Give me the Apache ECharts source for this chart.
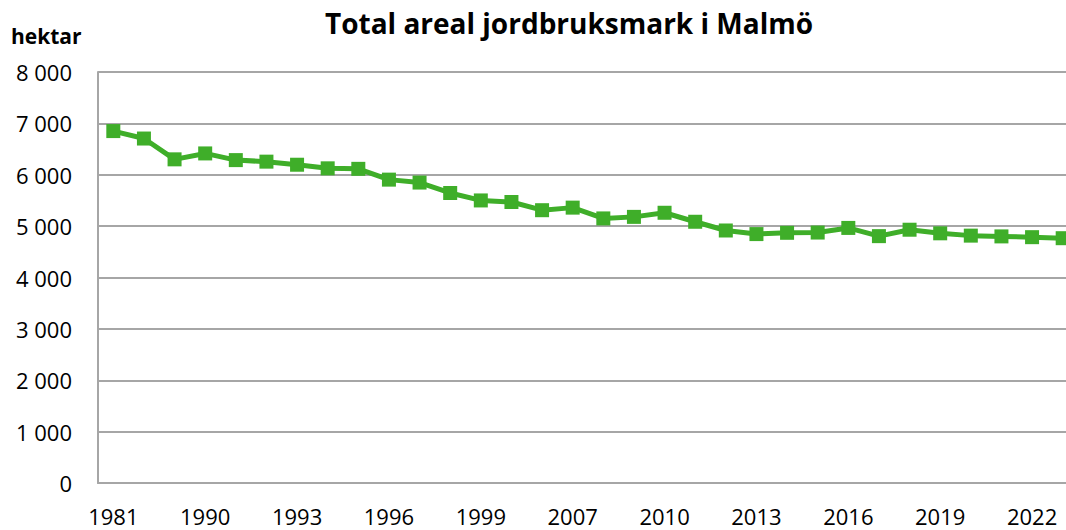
<!DOCTYPE html>
<html>
<head>
<meta charset="utf-8">
<script src="https://cdn.jsdelivr.net/npm/echarts@6/dist/echarts.min.js"></script>
<style>
  html, body { margin: 0; padding: 0; background: #fff; }
  #chart { width: 1066px; height: 530px; }
</style>
</head>
<body>
<div id="chart"></div>
<script>
(function() {
  // years; only every third one gets a label on the axis
  var years = [
    '1981', '1985', '1988', '1990', '1991', '1992', '1993', '1994', '1995', '1996',
    '1997', '1998', '1999', '2002', '2005', '2007', '2008', '2009', '2010', '2011',
    '2012', '2013', '2014', '2015', '2016', '2017', '2018', '2019', '2020', '2021',
    '2022', '2023'
  ];
  var hektar = [
    6850, 6705, 6300, 6415, 6285, 6255, 6195, 6125, 6115, 5905,
    5848, 5645, 5500, 5470, 5310, 5360, 5150, 5180, 5260, 5085,
    4915, 4845, 4870, 4875, 4965, 4805, 4930, 4860, 4815, 4800,
    4785, 4765
  ];
  var yTicks = [0, 1000, 2000, 3000, 4000, 5000, 6000, 7000, 8000];

  var green = '#3fae29';
  var gridGray = '#a6a6a6';
  var font = 'Open Sans';

  var chart = echarts.init(document.getElementById('chart'), null, { renderer: 'svg' });
  chart.setOption({
    animation: false,
    title: {
      text: 'Total areal jordbruksmark i Malmö',
      left: 564,
      textAlign: 'center',
      top: 4,
      textStyle: { fontFamily: font, fontWeight: 'bold', fontSize: 28, color: '#000' }
    },
    graphic: [{
      type: 'text',
      left: 11,
      top: 25,
      style: { text: 'hektar', fontFamily: font, fontWeight: 'bold', fontSize: 21, fill: '#000' }
    }],
    // the plot runs past the right edge of the picture
    grid: { left: 98, width: 980, top: 72, bottom: 47, outerBoundsMode: 'none', containLabel: false },
    xAxis: {
      type: 'category',
      data: years,
      boundaryGap: true,
      axisLine: { lineStyle: { color: gridGray, width: 2 } },
      axisTick: { show: false },
      axisLabel: {
        interval: 2,
        color: '#000',
        fontFamily: font,
        fontSize: 22,
        margin: 22
      }
    },
    yAxis: {
      type: 'value',
      min: yTicks[0],
      max: yTicks[yTicks.length - 1],
      interval: 1000,
      axisLine: { show: true, lineStyle: { color: gridGray, width: 2 } },
      axisTick: { show: false },
      splitLine: { lineStyle: { color: gridGray, width: 2 } },
      axisLabel: {
        color: '#000',
        fontFamily: font,
        fontSize: 22,
        margin: 26,
        formatter: function(v) {
          return String(v).replace(/\B(?=(\d{3})+(?!\d))/g, ' ');
        }
      }
    },
    series: [{
      type: 'line',
      data: hektar,
      symbol: 'rect',
      symbolSize: 14,
      lineStyle: { color: green, width: 5 },
      itemStyle: { color: green }
    }]
  });
})();
</script>
</body>
</html>
